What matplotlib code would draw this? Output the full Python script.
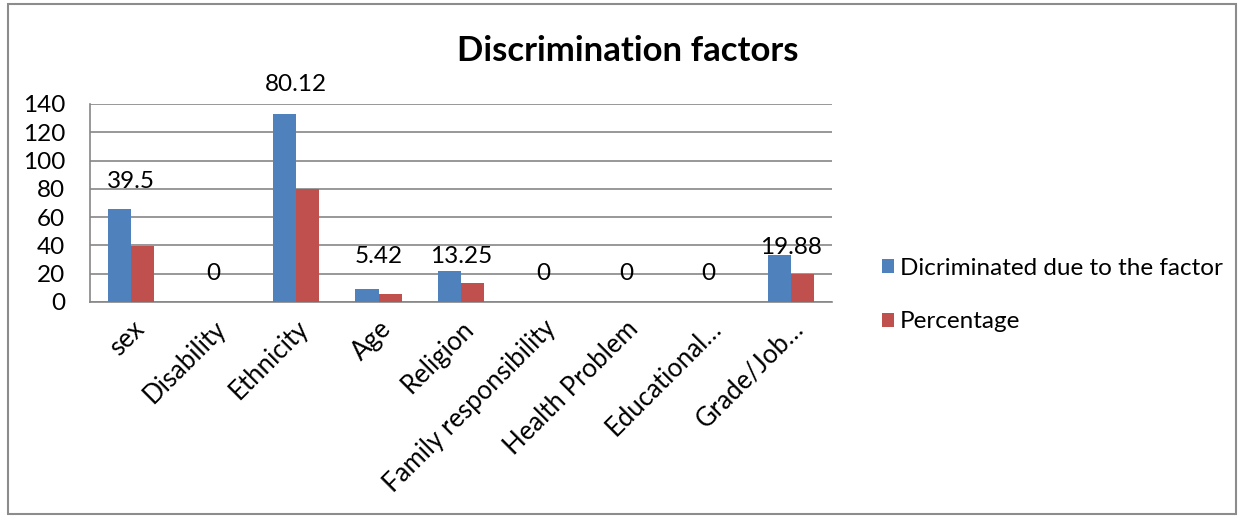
import matplotlib
matplotlib.use("Agg")
import matplotlib.pyplot as plt
import numpy as np
from matplotlib.patches import Rectangle

plt.rcParams['font.family'] = ['Lato', 'DejaVu Sans']

factors = ["sex", "Disability", "Ethnicity", "Age", "Religion",
           "Family responsibility", "Health Problem", "Educational…", "Grade/Job…"]
discriminated = [66, 0, 133, 9, 22, 0, 0, 0, 33]
percentage = [39.5, 0, 80.12, 5.42, 13.25, 0, 0, 0, 19.88]
# how far (px) each percentage label sits above the blue bar
label_lift = [27, 28, 29, 33, 14, 28, 28, 28, 8]

blue = "#4F81BD"
red = "#C0504D"
grid = "#868686"
fs = 17.5

fig = plt.figure(figsize=(12.44, 5.18), dpi=100)
ax = fig.add_axes([90 / 1244, 1 - 302 / 518, 742 / 1244, 198 / 518])

x = np.arange(len(factors))
w = 0.28
ax.bar(x - w / 2, discriminated, w, color=blue, label="Dicriminated due to the factor", zorder=3)
ax.bar(x + w / 2, percentage, w, color=red, label="Percentage", zorder=3)

for i, p in enumerate(percentage):
    lbl = ("%g" % p)
    ax.annotate(lbl, (x[i], discriminated[i]), xytext=(0, label_lift[i] * 0.72),
                textcoords="offset points", ha="center", va="center",
                fontsize=fs, annotation_clip=False, zorder=4)

ax.set_xlim(-0.5, len(factors) - 0.5)
ax.set_ylim(0, 140)
ax.set_yticks(range(0, 141, 20))
ax.yaxis.grid(True, color=grid, linewidth=1.2, zorder=0)
ax.tick_params(axis="both", length=0, labelsize=fs)
ax.tick_params(axis="y", pad=18)
ax.set_xticks(x)
ax.set_xticklabels(factors, rotation=45, ha="right", rotation_mode="anchor", fontsize=18.5)
ax.tick_params(axis="x", pad=10)
for s in ["top", "right"]:
    ax.spines[s].set_visible(False)
for s in ["left", "bottom"]:
    ax.spines[s].set_color(grid)
    ax.spines[s].set_linewidth(1.2)

fig.text(628 / 1244, 1 - 51 / 518, "Discrimination factors", ha="center", va="center",
         fontsize=25, fontweight="bold")

ax.legend(loc="center left", bbox_to_anchor=(860 / 742 - 90 / 742, 0.035), frameon=False,
          fontsize=fs, handlelength=0.5, handleheight=0.5, handletextpad=0.25,
          labelspacing=1.35)

fig.patches.append(Rectangle((8 / 1244, 4 / 518), 1228 / 1244, 510 / 518, transform=fig.transFigure,
                             fill=False, edgecolor="#8C8C8C", linewidth=1.5))

fig.savefig("out.png", dpi=100)
